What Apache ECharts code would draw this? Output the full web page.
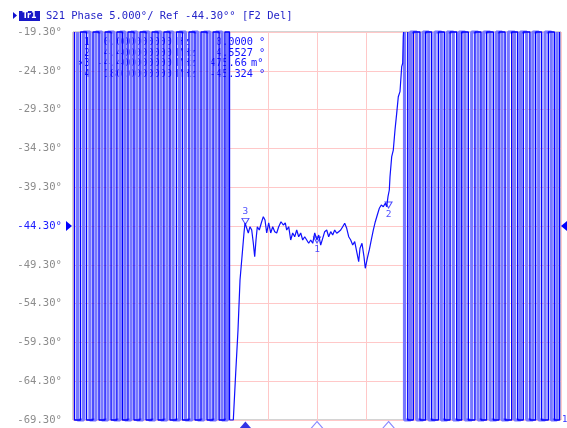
<!DOCTYPE html>
<html><head><meta charset="utf-8">
<script src="https://cdn.jsdelivr.net/npm/echarts@6/dist/echarts.min.js"></script>
<style>html,body{margin:0;padding:0;background:#fff}#c{width:567px;height:428px}</style>
</head><body><div id="c"></div>
<script>
// ---- axis setup (degrees / MHz) ----
const yTop = -19.3, yBottom = -69.3, yStep = 5;
const xMin = -15, xMax = 15, xStep = 3;
const yTickLabels = ['-69.30°','-64.30°','-59.30°','-54.30°','-49.30°','-44.30°','-39.30°','-34.30°','-29.30°','-24.30°','-19.30°'];
const refLabel = '-44.30°';

// ---- passband trace (MHz, degrees) ----
const passFreq = [-5.38,-5.145,-4.998,-4.856,-4.733,-4.611,-4.488,-4.426,-4.322,-4.223,-4.119,-4.014,-3.916,-3.830,-3.750,-3.670,-3.547,-3.424,-3.301,-3.197,-3.092,-2.969,-2.846,-2.723,-2.600,-2.477,-2.354,-2.213,-2.072,-1.949,-1.863,-1.740,-1.617,-1.494,-1.371,-1.248,-1.125,-1.002,-0.879,-0.756,-0.633,-0.510,-0.387,-0.264,-0.141,0.0,0.105,0.227,0.350,0.473,0.596,0.719,0.842,0.965,1.088,1.211,1.334,1.457,1.580,1.703,1.826,1.949,2.072,2.195,2.318,2.441,2.563,2.643,2.766,2.889,2.969,3.092,3.215,3.338,3.461,3.584,3.707,3.830,3.953,4.076,4.199,4.285,4.365,4.445,4.488,4.592,4.691,4.795,4.899,4.998,5.102,5.207,5.268,5.305,5.324];
const passPhase = [-69.3,-69.3,-63.24,-57.70,-51.26,-48.26,-45.20,-43.91,-43.75,-45.20,-44.39,-44.82,-46.49,-48.26,-46.10,-44.39,-44.82,-43.91,-43.10,-43.53,-45.20,-43.91,-45.20,-44.39,-45.03,-45.20,-44.39,-43.75,-44.17,-43.91,-44.82,-44.39,-46.10,-45.20,-45.68,-44.82,-45.68,-45.20,-46.10,-45.68,-46.10,-46.53,-46.10,-46.53,-45.20,-46.10,-45.46,-46.75,-45.89,-45.03,-44.82,-45.68,-45.03,-45.46,-44.82,-45.24,-45.03,-44.82,-44.39,-43.95,-44.60,-45.68,-46.10,-46.75,-46.32,-47.61,-48.90,-47.17,-46.53,-48.26,-49.75,-48.46,-47.39,-46.10,-44.82,-43.75,-42.88,-42.02,-41.59,-41.81,-41.37,-41.81,-40.52,-39.66,-37.95,-35.37,-34.51,-31.93,-29.78,-27.64,-26.99,-23.77,-23.33,-19.91,-19.3];

// ---- stop-band phase wraps (MHz where the trace crosses the full screen) ----
const leftDark = [-14.91,-14.54,-14.17,-13.77,-13.40,-13.03,-12.66,-12.30,-11.96,-11.62,-11.25,-10.88,-10.51,-10.14,-9.77,-9.41,-9.04,-8.64,-8.27,-7.87,-7.50,-7.13,-6.76,-6.39,-6.02,-5.66,-5.38];
const leftLight = [-14.72,-14.35,-13.96,-13.59,-13.22,-12.85,-12.48,-12.11,-11.80,-11.43,-11.07,-10.70,-10.33,-9.96,-9.59,-9.22,-8.85,-8.45,-8.08,-7.68,-7.32,-6.95,-6.58,-6.21,-5.84,-5.50];
const rightDark = [5.58,5.92,6.33,6.68,7.05,7.46,7.83,8.18,8.59,8.90,9.30,9.71,10.08,10.43,10.84,11.19,11.56,11.97,12.34,12.68,13.09,13.44,13.81,14.22,14.59,14.91];
const rightLight = [5.38,5.75,6.13,6.52,6.87,7.25,7.64,8.00,8.38,8.74,9.10,9.51,9.90,10.25,10.64,11.02,11.37,11.76,12.15,12.51,12.89,13.27,13.63,14.02,14.40,14.75];

// ---- markers ----
const markerNames = ['1','2','3'];
const markerFreq = [0, 4.4, -4.4];
const markerPhase = [-46.1, -41.6, -43.7];
const activeMarker = '3';
const tableIdx = ['1','2','3','4'];
const tableFreq = ['0.000000000','4.400000000','-4.400000000','180.0000000'];
const tableFreqUnit = ['Hz','MHz','MHz','MHz'];
const tableVal = ['0.0000','4.5527','475.66','-45.324'];
const tableValUnit = ['°','°','m°','°'];
const titleText = 'S21 Phase 5.000°/ Ref -44.30°° [F2 Del]';

const span = yTop - yBottom;
const toY = p => p - yBottom;
function zig(freqs, startHigh) {
  const pts = []; let hi = startHigh;
  freqs.forEach(f => { pts.push([f, hi ? span : 0]); pts.push([f, hi ? 0 : span]); hi = !hi; });
  return pts;
}
const BLUE = '#0000ff', LIGHT = '#7878ff';
const mono = '"DejaVu Sans Mono", monospace';
const lineBase = {type:'line', symbol:'none', clip:false, silent:true, animation:false};

const chart = echarts.init(document.getElementById('c'), null, {renderer:'canvas'});
const option = {
  backgroundColor:'#fff',
  animation:false,
  grid:{left:73, right:6, top:32, bottom:8, show:true, borderColor:'#a8a8a8', borderWidth:1, backgroundColor:'#fff'},
  xAxis:{type:'value', min:xMin, max:xMax, interval:xStep, axisLabel:{show:false}, axisTick:{show:false}, axisLine:{show:false},
    splitLine:{show:true, lineStyle:{color:'#ffc8c8', width:1}}},
  yAxis:{type:'value', min:0, max:span, interval:yStep, axisTick:{show:false}, axisLine:{show:false},
    splitLine:{show:true, lineStyle:{color:'#ffc8c8', width:1}},
    axisLabel:{margin:11, fontFamily:'DejaVu Sans Mono', fontSize:10.6,
      formatter:(v)=>yTickLabels[Math.round(v/yStep)],
      color:(v)=> yTickLabels[Math.round(Number(v)/yStep)]===refLabel ? '#1a1aff' : '#8c8c8c'}},
  series:[
    Object.assign({}, lineBase, {data:zig(leftLight, true), lineStyle:{color:LIGHT, width:3.2}}),
    Object.assign({}, lineBase, {data:zig(rightLight, true), lineStyle:{color:LIGHT, width:3.2}}),
    Object.assign({}, lineBase, {data:zig(leftDark, true), lineStyle:{color:BLUE, width:1.4}}),
    Object.assign({}, lineBase, {data:zig(rightDark, true), lineStyle:{color:BLUE, width:1.4}}),
    Object.assign({}, lineBase, {data:passFreq.map((f,i)=>[f, toY(passPhase[i])]), lineStyle:{color:'#1010ff', width:1.2}}),
    {type:'scatter', clip:false, silent:true, animation:false, symbol:'triangle', symbolRotate:180, symbolSize:[7,6],
     itemStyle:{color:'#fff', borderColor:'#2020ff', borderWidth:1},
     data:markerNames.map((n,i)=>({name:n, value:[markerFreq[i], toY(markerPhase[i])],
       label:{show:true, formatter:n, position: n===activeMarker?'top':'bottom', distance:1, color:'#2020ff', fontSize:9.5, fontFamily:'DejaVu Sans Mono'}}))},
    {type:'scatter', clip:false, silent:true, animation:false, symbol:'triangle', symbolSize:[12,7], symbolOffset:[0,5],
     data:markerNames.map((n,i)=>({value:[markerFreq[i], 0],
       itemStyle: n===activeMarker ? {color:'#0000e0'} : {color:'#fff', borderColor:'#6a6aff', borderWidth:1}}))}
  ]
};
chart.setOption(option);

const refPx = chart.convertToPixel({gridIndex:0}, [xMin, toY(-44.3)]);
const rightPx = chart.convertToPixel({gridIndex:0}, [xMax, 0]);
const g = [];
const ry = refPx[1], lx = refPx[0], rx = rightPx[0];
g.push({type:'polygon', shape:{points:[[lx-7,ry-5],[lx-1,ry],[lx-7,ry+5]]}, style:{fill:'#0000ff'}});
g.push({type:'polygon', shape:{points:[[rx+6,ry-5],[rx,ry],[rx+6,ry+5]]}, style:{fill:'#0000ff'}});
// title
g.push({type:'polygon', shape:{points:[[13,12],[17,15.5],[13,19]]}, style:{fill:'#1010d0'}});
g.push({type:'rect', shape:{x:19, y:11, width:21, height:10}, style:{fill:'#1818c8'}});
g.push({type:'text', x:29.5, y:16, style:{text:'Tr1', fill:'#ffffff', font:'bold 8px "DejaVu Sans"', align:'center', verticalAlign:'middle'}});
g.push({type:'text', x:46, y:16, style:{text:titleText, fill:'#2424c8', font:'10.5px '+mono, align:'left', verticalAlign:'middle'}});
// marker table
const rowsY = [42.5, 53, 63.5, 74];
const tf = '10.3px '+mono, tc = '#1010ff';
for (let i=0;i<4;i++){
  const y = rowsY[i];
  g.push({type:'text', x:84, y, style:{text:tableIdx[i], fill:tc, font:tf, align:'left', verticalAlign:'middle'}});
  g.push({type:'text', x:172, y, style:{text:tableFreq[i], fill:tc, font:tf, align:'right', verticalAlign:'middle'}});
  g.push({type:'text', x:177, y, style:{text:tableFreqUnit[i], fill:tc, font:tf, align:'left', verticalAlign:'middle'}});
  g.push({type:'text', x: tableValUnit[i]==='m°'?247:253, y, style:{text:tableVal[i], fill:tc, font:tf, align:'right', verticalAlign:'middle'}});
  g.push({type:'text', x: tableValUnit[i]==='m°'?251:259, y, style:{text:tableValUnit[i], fill:tc, font:tf, align:'left', verticalAlign:'middle'}});
}
g.push({type:'text', x:77, y:rowsY[2], style:{text:'>', fill:tc, font:tf, align:'left', verticalAlign:'middle'}});
g.push({type:'text', x:rx+1, y:rightPx[1], style:{text:'1', fill:'#3030ff', font:'9px '+mono, align:'left', verticalAlign:'middle'}});
chart.setOption({graphic:g});
</script></body></html>
